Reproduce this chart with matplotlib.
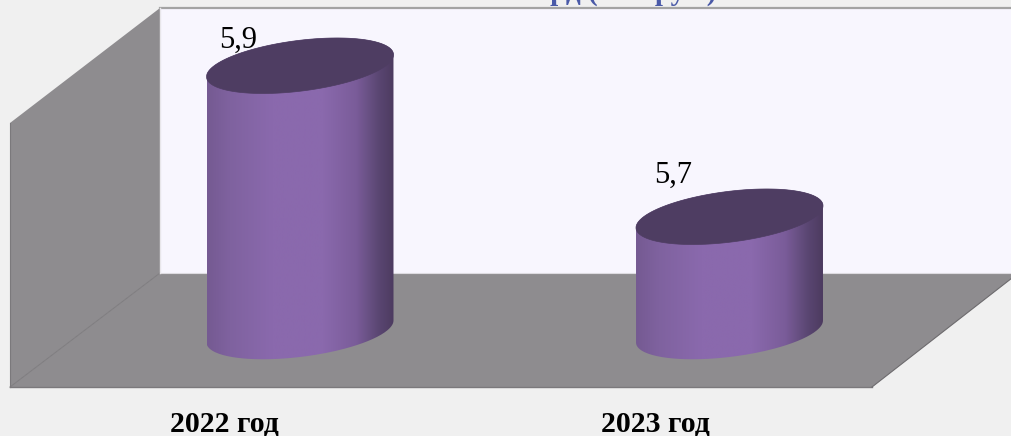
import numpy as np
import matplotlib
matplotlib.use("Agg")
import matplotlib.pyplot as plt
from matplotlib.colors import LinearSegmentedColormap
from matplotlib.patches import Polygon, PathPatch
from matplotlib.path import Path
from matplotlib.transforms import Affine2D

categories = ["2022 год", "2023 год"]
values = [5.9, 5.7]
value_labels = ["5,9", "5,7"]
title_text = "млрд.(тыс.руб.)"

W, H = 1012, 436
BASE = 5.548
PX_PER_UNIT = 755.0
PX_PER_CAT = 429.5
X0 = 300.0
Y0 = 331.5

fig = plt.figure(figsize=(W / 100, H / 100), dpi=100, facecolor="#f0f0f0")
ax = fig.add_axes([0, 0, 1, 1])
ax.set_xlim(-X0 / PX_PER_CAT, (W - X0) / PX_PER_CAT)
ax.set_ylim(BASE - (H - Y0) / PX_PER_UNIT, BASE + Y0 / PX_PER_UNIT)
ax.axis("off")

# pixel-space transform for the chart furniture (y grows downwards)
px = Affine2D().scale(1 / W, -1 / H).translate(0, 1) + fig.transFigure

GREY = "#8e8c8f"
ax.add_patch(Polygon([(160, 8), (1012, 8), (1012, 273), (160, 273)], closed=True,
                     fc="#f8f6fe", ec="none", transform=px, zorder=1))
ax.add_patch(Polygon([(10, 123), (160, 8), (160, 273), (10, 387)], closed=True,
                     fc=GREY, ec="none", transform=px, zorder=2))
ax.add_patch(Polygon([(10, 387), (160, 273), (1012, 273), (1012, 278), (872, 387)], closed=True,
                     fc=GREY, ec="none", transform=px, zorder=2))
ax.plot([160, 1012], [8, 8], color="#a3a3a3", lw=1.6, transform=px, zorder=3)
ax.plot([10, 160], [387, 273], color="#7d7b7e", lw=0.7, transform=px, zorder=3)
ax.plot([160, 1012], [272.5, 272.5], color="#dddbe0", lw=0.8, transform=px, zorder=3)
ax.plot([10, 872], [387, 387], color="#7b797c", lw=1.0, transform=px, zorder=3)
ax.plot([872, 1012], [387, 278], color="#6d6b6e", lw=0.8, transform=px, zorder=3)
ax.plot([10, 10], [123, 387], color="#7b797c", lw=0.8, transform=px, zorder=3)
ax.plot([160, 160], [8, 273], color="#e8e6ea", lw=1.0, transform=px, zorder=3)

body_cmap = LinearSegmentedColormap.from_list("body", [
    (0.00, "#755a92"), (0.12, "#7f629f"), (0.35, "#8a69ad"), (0.62, "#8a69ad"),
    (0.80, "#7a5c99"), (0.92, "#5a4672"), (1.00, "#4d3b60")])

HALF_W = 93.5 / PX_PER_CAT     # half cylinder width in category units
RB = 25.5 / PX_PER_UNIT        # ellipse minor radius in value units
SHEAR = 11.0 / PX_PER_UNIT     # ellipse tilt in value units
t = np.linspace(0, 2 * np.pi, 241)


def ellipse(cx, cy):
    return np.column_stack([cx + HALF_W * np.cos(t),
                            cy + SHEAR * np.cos(t) + RB * np.sin(t)])


for i, v in enumerate(values):
    # body outline: lower half of the base ellipse + upper half of the top ellipse
    bot = ellipse(i, BASE)
    top = ellipse(i, v)
    lo = bot[np.sin(t) <= 0]
    lo = lo[np.argsort(lo[:, 0])]
    hi = top[np.sin(t) >= 0]
    hi = hi[np.argsort(-hi[:, 0])]
    outline = np.vstack([lo, hi, lo[:1]])
    clip = PathPatch(Path(outline), fc="none", ec="none", transform=ax.transData)
    ax.add_patch(clip)
    im = ax.imshow(np.linspace(0, 1, 256).reshape(1, -1), cmap=body_cmap, aspect="auto",
                   extent=[i - HALF_W, i + HALF_W, BASE - 2 * RB, v + 2 * RB],
                   zorder=4, interpolation="bilinear")
    im.set_clip_path(clip)
    ax.add_patch(Polygon(top, closed=True, fc="#4e3d62", ec="#4e3d62", lw=0.5, zorder=5))

ax.set_xlim(-X0 / PX_PER_CAT, (W - X0) / PX_PER_CAT)
ax.set_ylim(BASE - (H - Y0) / PX_PER_UNIT, BASE + Y0 / PX_PER_UNIT)

serif = ["Liberation Serif", "DejaVu Serif"]
label_xy = [(238, 40), (673, 175)]
for (x, y), s in zip(label_xy, value_labels):
    ax.text(x, y, s, transform=px, ha="center", va="center", family=serif,
            fontsize=22, color="black", zorder=6)
cat_xy = [(224, 424), (655, 424)]
for (x, y), s in zip(cat_xy, categories):
    ax.text(x, y, s, transform=px, ha="center", va="center", family=serif,
            fontsize=21.5, fontweight="bold", color="black", zorder=6)

ax.text(615, 0, title_text, transform=px, ha="center", va="baseline", family=serif,
        fontsize=21, fontweight="bold", color="#4a5aa8", zorder=6)

fig.savefig("out.png", dpi=100, facecolor=fig.get_facecolor())
